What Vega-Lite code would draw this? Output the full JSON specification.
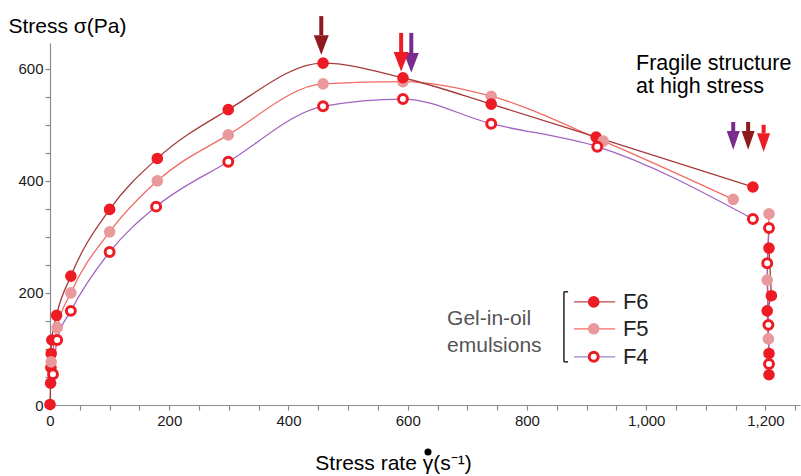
{
  "$schema": "https://vega.github.io/schema/vega-lite/v6.json",
  "width": 750,
  "height": 362,
  "autosize": {"type": "none"},
  "padding": {"left": 50, "top": 43, "right": 1, "bottom": 71},
  "background": "white",
  "config": {
    "view": {"stroke": null},
    "axis": {
      "grid": false,
      "domainColor": "#8a8a8a",
      "domainWidth": 1.2,
      "tickColor": "#8a8a8a",
      "tickWidth": 1.2,
      "tickSize": 5,
      "labelFont": "Liberation Sans",
      "labelFontSize": 15,
      "labelColor": "#1a1a1a",
      "titleFont": "Liberation Sans",
      "titleFontSize": 21,
      "titleFontWeight": "normal",
      "titleColor": "#000000"
    }
  },
  "datasets": {
    "pts": [
      {"s": "F5", "b": "u", "x": 592, "y": 577},
      {"s": "F5", "b": "u", "x": 740, "y": 551},
      {"s": "F6", "b": "u", "x": 0, "y": 1},
      {"s": "F6", "b": "u", "x": 1, "y": 39},
      {"s": "F6", "b": "u", "x": 1.5, "y": 67},
      {"s": "F6", "b": "u", "x": 2, "y": 92},
      {"s": "F6", "b": "u", "x": 3, "y": 116},
      {"s": "F6", "b": "u", "x": 11, "y": 160},
      {"s": "F6", "b": "u", "x": 35, "y": 230},
      {"s": "F6", "b": "u", "x": 100, "y": 349},
      {"s": "F6", "b": "u", "x": 180, "y": 440},
      {"s": "F6", "b": "u", "x": 299, "y": 527},
      {"s": "F6", "b": "u", "x": 458, "y": 610},
      {"s": "F6", "b": "u", "x": 592, "y": 584},
      {"s": "F6", "b": "u", "x": 740, "y": 537},
      {"s": "F6", "b": "u", "x": 916, "y": 478},
      {"s": "F6", "b": "u", "x": 1179, "y": 389},
      {"s": "F5", "b": "u", "x": 2, "y": 77},
      {"s": "F5", "b": "u", "x": 12, "y": 138},
      {"s": "F5", "b": "u", "x": 35, "y": 200},
      {"s": "F5", "b": "u", "x": 100, "y": 309},
      {"s": "F5", "b": "u", "x": 180, "y": 400},
      {"s": "F5", "b": "u", "x": 299, "y": 482},
      {"s": "F5", "b": "u", "x": 458, "y": 573},
      {"s": "F5", "b": "u", "x": 928, "y": 471},
      {"s": "F5", "b": "u", "x": 1146, "y": 367},
      {"s": "F4", "b": "u", "x": 5, "y": 55},
      {"s": "F4", "b": "u", "x": 12, "y": 116},
      {"s": "F4", "b": "u", "x": 35, "y": 168},
      {"s": "F4", "b": "u", "x": 100, "y": 273},
      {"s": "F4", "b": "u", "x": 178, "y": 354},
      {"s": "F4", "b": "u", "x": 299, "y": 434},
      {"s": "F4", "b": "u", "x": 458, "y": 533},
      {"s": "F4", "b": "u", "x": 592, "y": 546},
      {"s": "F4", "b": "u", "x": 740, "y": 502},
      {"s": "F4", "b": "u", "x": 918, "y": 461},
      {"s": "F4", "b": "u", "x": 1179, "y": 332},
      {"s": "F6", "b": "d", "x": 1206, "y": 280},
      {"s": "F6", "b": "d", "x": 1210, "y": 195},
      {"s": "F6", "b": "d", "x": 1203, "y": 168},
      {"s": "F6", "b": "d", "x": 1206, "y": 92},
      {"s": "F6", "b": "d", "x": 1206, "y": 54},
      {"s": "F5", "b": "d", "x": 1206, "y": 341},
      {"s": "F5", "b": "d", "x": 1203, "y": 223},
      {"s": "F5", "b": "d", "x": 1205, "y": 118},
      {"s": "F4", "b": "d", "x": 1206, "y": 316},
      {"s": "F4", "b": "d", "x": 1203, "y": 253},
      {"s": "F4", "b": "d", "x": 1205, "y": 143},
      {"s": "F4", "b": "d", "x": 1206, "y": 73}
    ],
    "arrows": [
      {"c": "dk", "g": "big", "x": 455, "y": 660, "y2": 694},
      {"c": "pu", "g": "big", "x": 606, "y": 628, "y2": 664},
      {"c": "rd", "g": "big", "x": 589, "y": 630, "y2": 664},
      {"c": "pu", "g": "sm", "x": 1146, "y": 489, "y2": 505},
      {"c": "dk", "g": "sm", "x": 1171, "y": 489, "y2": 505},
      {"c": "rd", "g": "sm", "x": 1197, "y": 485, "y2": 500}
    ],
    "notes": [
      {"t": "Fragile structure\nat high stress", "x": 983, "y": 598}
    ],
    "group": [
      {"t": "Gel-in-oil\nemulsions", "x": 666, "y": 143}
    ],
    "dot": [
      {"x": 634, "y": -84}
    ],
    "bracket": [
      {"x": 862, "x2": 862, "y": 77, "y2": 202},
      {"x": 862, "x2": 869, "y": 202, "y2": 202},
      {"x": 862, "x2": 869, "y": 77, "y2": 77}
    ],
    "legend": [
      {"s": "F6", "x": 879, "x2": 948, "mx": 912, "tx": 961, "y": 184},
      {"s": "F5", "x": 879, "x2": 948, "mx": 912, "tx": 961, "y": 136},
      {"s": "F4", "x": 879, "x2": 948, "mx": 912, "tx": 961, "y": 86}
    ]
  },
  "encoding": {
    "x": {
      "field": "x", "type": "quantitative",
      "scale": {"domain": [0, 1258], "nice": false, "zero": false},
      "axis": {
        "title": "Stress rate γ(s⁻¹)",
        "values": [0, 50, 100, 150, 200, 250, 300, 350, 400, 450, 500, 550, 600, 650, 700, 750, 800, 850, 900, 950, 1000, 1050, 1100, 1150, 1200, 1250],
        "labelExpr": "datum.value % 200 === 0 ? format(datum.value, ',') : ''",
        "labelOverlap": false,
        "labelFlush": false,
        "labelPadding": 3,
        "titleX": 343,
        "titleY": 64,
        "titleAlign": "center",
        "titleBaseline": "alphabetic"
      }
    },
    "y": {
      "field": "y", "type": "quantitative",
      "scale": {"domain": [0, 646], "nice": false, "zero": false},
      "axis": {
        "title": "Stress σ(Pa)",
        "values": [0, 50, 100, 150, 200, 250, 300, 350, 400, 450, 500, 550, 600],
        "labelExpr": "datum.value % 200 === 0 ? format(datum.value, ',') : ''",
        "labelOverlap": false,
        "labelPadding": 2,
        "titleAngle": 0,
        "titleX": -42,
        "titleY": -11,
        "titleAlign": "left",
        "titleBaseline": "alphabetic"
      }
    }
  },
  "layer": [
    {
      "data": {"name": "pts"},
      "transform": [{"filter": "datum.b === 'u'"}],
      "mark": {"type": "line", "interpolate": "monotone", "strokeWidth": 1.3},
      "encoding": {
        "stroke": {"field": "s", "type": "nominal", "scale": {"domain": ["F6", "F5", "F4"], "range": ["#a53c3a", "#f26b63", "#a264c2"]}, "legend": null},
        "detail": {"field": "s"}
      }
    },
    {
      "data": {"name": "pts"},
      "transform": [{"filter": "datum.b === 'd'"}],
      "mark": {"type": "line", "strokeWidth": 1.3},
      "encoding": {
        "stroke": {"field": "s", "type": "nominal", "scale": {"domain": ["F6", "F5", "F4"], "range": ["#a53c3a", "#f26b63", "#a264c2"]}, "legend": null},
        "detail": {"field": "s"},
        "order": {"field": "y", "type": "quantitative"}
      }
    },
    {
      "data": {"name": "pts"},
      "transform": [{"filter": "datum.s !== 'F4'"}],
      "mark": {"type": "point", "shape": "circle", "filled": true, "opacity": 1, "size": 135},
      "encoding": {
        "color": {"field": "s", "type": "nominal", "scale": {"domain": ["F6", "F5"], "range": ["#ed1c24", "#e9999b"]}, "legend": null}
      }
    },
    {
      "data": {"name": "pts"},
      "transform": [{"filter": "datum.s === 'F4'"}],
      "mark": {"type": "point", "shape": "circle", "filled": false, "fill": "#ffffff", "fillOpacity": 1, "stroke": "#ed1c24", "strokeWidth": 3, "opacity": 1, "size": 80}
    },
    {
      "data": {"name": "arrows"},
      "mark": {"type": "rule", "strokeWidth": 4, "strokeCap": "butt"},
      "encoding": {
        "y2": {"field": "y2"},
        "color": {"field": "c", "type": "nominal", "scale": {"domain": ["dk", "rd", "pu"], "range": ["#8e1a1e", "#ed1c24", "#7b2a8e"]}, "legend": null}
      }
    },
    {
      "data": {"name": "arrows"},
      "transform": [{"filter": "datum.g === 'big'"}],
      "mark": {"type": "point", "shape": "M-1,0L1,0L0,2.6Z", "filled": true, "opacity": 1, "size": 225},
      "encoding": {
        "color": {"field": "c", "type": "nominal", "scale": {"domain": ["dk", "rd", "pu"], "range": ["#8e1a1e", "#ed1c24", "#7b2a8e"]}, "legend": null}
      }
    },
    {
      "data": {"name": "arrows"},
      "transform": [{"filter": "datum.g === 'sm'"}],
      "mark": {"type": "point", "shape": "M-1,0L1,0L0,2.9Z", "filled": true, "opacity": 1, "size": 169},
      "encoding": {
        "color": {"field": "c", "type": "nominal", "scale": {"domain": ["dk", "rd", "pu"], "range": ["#8e1a1e", "#ed1c24", "#7b2a8e"]}, "legend": null}
      }
    },
    {
      "data": {"name": "notes"},
      "mark": {"type": "text", "align": "left", "baseline": "alphabetic", "font": "Liberation Sans", "fontSize": 21.5, "lineBreak": "\n", "lineHeight": 23, "color": "#000000"},
      "encoding": {"text": {"field": "t"}}
    },
    {
      "data": {"name": "group"},
      "mark": {"type": "text", "align": "left", "baseline": "alphabetic", "font": "Liberation Sans", "fontSize": 21, "lineBreak": "\n", "lineHeight": 27, "color": "#555555"},
      "encoding": {"text": {"field": "t"}}
    },
    {
      "data": {"name": "dot"},
      "mark": {"type": "point", "shape": "circle", "filled": true, "opacity": 1, "size": 50, "color": "#000000"}
    },
    {
      "data": {"name": "bracket"},
      "mark": {"type": "rule", "strokeWidth": 1.5, "color": "#222222"},
      "encoding": {"x2": {"field": "x2"}, "y2": {"field": "y2"}}
    },
    {
      "data": {"name": "legend"},
      "mark": {"type": "rule", "strokeWidth": 1.3},
      "encoding": {
        "x2": {"field": "x2"},
        "color": {"field": "s", "type": "nominal", "scale": {"domain": ["F6", "F5", "F4"], "range": ["#b34a48", "#f26b63", "#9a86c8"]}, "legend": null}
      }
    },
    {
      "data": {"name": "legend"},
      "transform": [{"filter": "datum.s !== 'F4'"}],
      "mark": {"type": "point", "shape": "circle", "filled": true, "opacity": 1, "size": 135},
      "encoding": {
        "x": {"field": "mx", "type": "quantitative"},
        "color": {"field": "s", "type": "nominal", "scale": {"domain": ["F6", "F5"], "range": ["#ed1c24", "#e9999b"]}, "legend": null}
      }
    },
    {
      "data": {"name": "legend"},
      "transform": [{"filter": "datum.s === 'F4'"}],
      "mark": {"type": "point", "shape": "circle", "filled": false, "fill": "#ffffff", "fillOpacity": 1, "stroke": "#ed1c24", "strokeWidth": 3, "opacity": 1, "size": 80},
      "encoding": {
        "x": {"field": "mx", "type": "quantitative"}
      }
    },
    {
      "data": {"name": "legend"},
      "mark": {"type": "text", "align": "left", "baseline": "middle", "font": "Liberation Sans", "fontSize": 22, "color": "#222222"},
      "encoding": {
        "x": {"field": "tx", "type": "quantitative"},
        "text": {"field": "s"}
      }
    }
  ],
  "resolve": {"scale": {"color": "independent", "stroke": "independent"}}
}
